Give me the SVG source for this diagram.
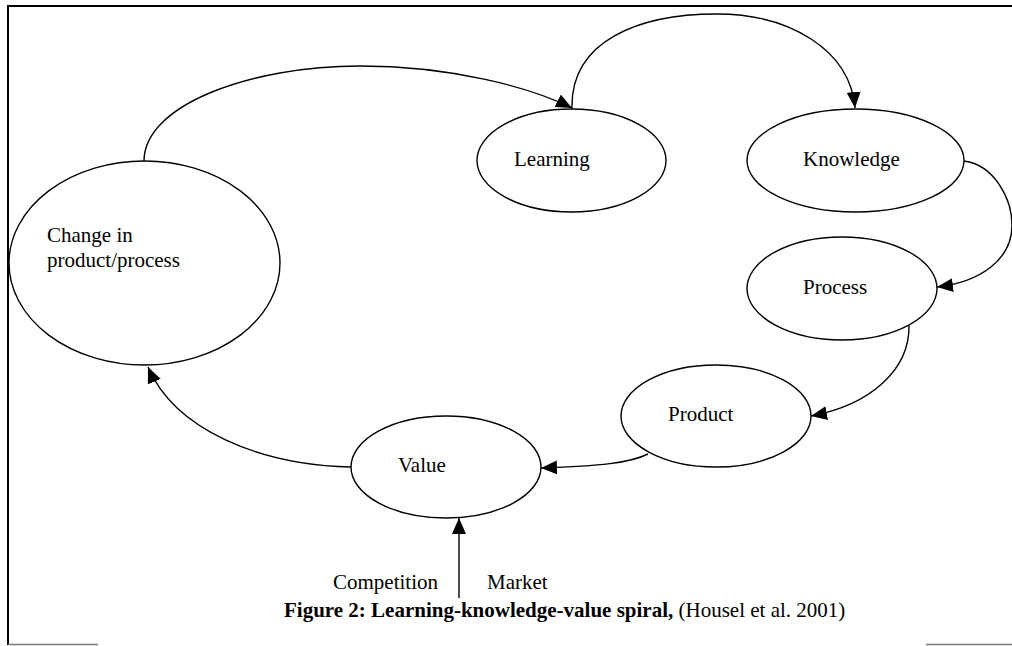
<svg xmlns="http://www.w3.org/2000/svg" width="1012" height="646" viewBox="0 0 1012 646">
<style>
.node{fill:#fff;stroke:#000;stroke-width:1.4}
.lbl{font-family:"Liberation Serif","Times New Roman",serif;font-size:21px;fill:#000}
.edge{fill:none;stroke:#000;stroke-width:1.4}
.cap{font-family:"Liberation Serif","Times New Roman",serif;font-size:21px;fill:#000}
</style>
<defs>
<marker id="ah" markerUnits="userSpaceOnUse" markerWidth="17" markerHeight="15" refX="16" refY="7" orient="auto">
<path d="M0,0 L16,7 L0,14 z" fill="#000"/>
</marker>
</defs>
<rect width="1012" height="646" fill="#fff"/>
<g id="frame">
<line x1="7" y1="6" x2="1012" y2="6" stroke="#000" stroke-width="2.2"/>
<line x1="8" y1="5" x2="8" y2="645" stroke="#000" stroke-width="2"/>
<line x1="8" y1="644.5" x2="98" y2="644.5" stroke="#777" stroke-width="1.5"/>
<line x1="926" y1="644.5" x2="1012" y2="644.5" stroke="#777" stroke-width="1.5"/>
</g>
<g id="connectors">
<path class="edge" marker-end="url(#ah)" d="M144,161 C144,105 250,66 360,66 C450,66 530,87 572,108"/>
<path class="edge" marker-end="url(#ah)" d="M572,109 C570,40 640,14 717,14 C790,14 850,50 855,108"/>
<path class="edge" marker-end="url(#ah)" d="M964,161 C995,165 1012,200 1012,225 C1012,260 980,282 937,287"/>
<path class="edge" marker-end="url(#ah)" d="M909,325 C910,370 870,405 811,416"/>
<path class="edge" marker-end="url(#ah)" d="M648,454 C630,463 600,466 541,468"/>
<path class="edge" marker-end="url(#ah)" d="M351,467 C260,465 175,430 148,367"/>
<path class="edge" marker-end="url(#ah)" d="M459,598 L459,518"/>
</g>
<g id="change">
<ellipse class="node" cx="144.5" cy="263" rx="135.5" ry="102"/>
<text class="lbl" x="47" y="242">Change in</text>
<text class="lbl" x="47" y="267">product/process</text>
</g>
<g id="learning">
<ellipse class="node" cx="571.5" cy="160.5" rx="94.5" ry="51.5"/>
<text class="lbl" x="514" y="166">Learning</text>
</g>
<g id="knowledge">
<ellipse class="node" cx="855.5" cy="160.5" rx="108.5" ry="51.5"/>
<text class="lbl" x="803" y="166">Knowledge</text>
</g>
<g id="process">
<ellipse class="node" cx="842" cy="288.5" rx="95" ry="51.5"/>
<text class="lbl" x="803" y="294">Process</text>
</g>
<g id="product">
<ellipse class="node" cx="716" cy="416" rx="95" ry="51"/>
<text class="lbl" x="668" y="421">Product</text>
</g>
<g id="value">
<ellipse class="node" cx="446" cy="467" rx="95" ry="51"/>
<text class="lbl" x="398" y="472">Value</text>
</g>
<g id="inputs">
<text class="lbl" x="333" y="589">Competition</text>
<text class="lbl" x="487" y="589">Market</text>
</g>
<g id="caption">
<text class="cap" x="284" y="617"><tspan font-weight="bold">Figure 2: Learning-knowledge-value spiral,</tspan> (Housel et al. 2001)</text>
</g>
</svg>
